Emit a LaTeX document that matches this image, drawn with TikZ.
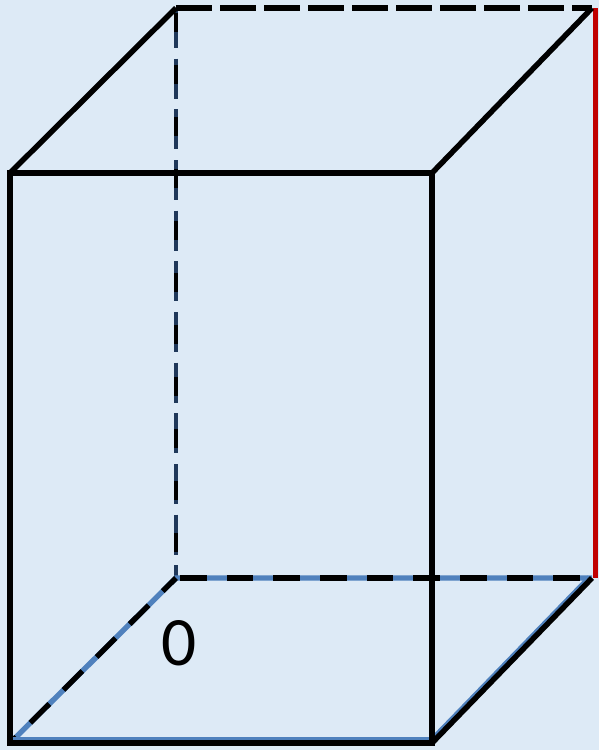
\documentclass[tikz,border=0pt]{standalone}
\usepackage{fontspec}
\setmainfont{Carlito}
\definecolor{bgblue}{RGB}{221,234,246}
\definecolor{edgeblue}{RGB}{79,129,189}
\definecolor{navy}{RGB}{31,56,90}
\definecolor{edgered}{RGB}{192,0,0}
\begin{document}
\begin{tikzpicture}[x=0.75pt,y=-0.75pt,
  edge/.style={line width=4.1pt,black},
  hidden/.style={line width=4pt,black,dash pattern=on 20pt off 15pt},
  bluebase/.style={line width=4pt,edgeblue},
  navybase/.style={line width=2.6pt,navy,dash pattern=on 30pt off 8pt},
  topdash/.style={line width=3.8pt,black,dash pattern=on 27pt off 6pt},
  rededge/.style={line width=4pt,edgered},
  lbl/.style={font=\fontsize{52}{56}\selectfont,inner sep=0pt}]
\fill[bgblue] (0,0) rectangle (599,750);
\useasboundingbox (0,0) rectangle (599,750);
\coordinate (A) at (10,173);
\coordinate (B) at (432,173);
\coordinate (C) at (432,743);
\coordinate (D) at (10,743);
\coordinate (E) at (176,8);
\coordinate (F) at (592,8);
\coordinate (G) at (592,578);
\coordinate (H) at (176,578);
% hidden back vertical
\draw[navybase] (E) -- (H);
\draw[hidden,line width=3pt,dash pattern=on 14pt off 25pt,dash phase=-4pt] (E) -- (H);
% hidden bottom edges
\draw[bluebase] (D) -- (H) -- (G);
\draw[hidden,dash phase=-3pt] (H) -- (G);
\draw[hidden,dash phase=6pt] (H) -- (D);
% top back edge
\draw[topdash] (E) -- (F);
% red back right edge
\draw[rededge] ([xshift=2.5]F) -- ([xshift=2.5]G);
% blue under front bottom and right diagonal
\draw[bluebase,line width=2.4pt] ([yshift=3.5]D) -- ([yshift=3.5]C);
\draw[bluebase,line width=2.4pt] ([xshift=-2.5,yshift=1]C) -- ([xshift=-2.5,yshift=1]G);
% front visible edges
\draw[edge,line join=miter] (A) -- (B) -- (C) -- (D) -- cycle;
\draw[edge] (A) -- (E);
\draw[edge] (B) -- (F);
\draw[edge] (C) -- (G);
\node[lbl] (zero) at (179,643) {0};
\end{tikzpicture}
\end{document}
